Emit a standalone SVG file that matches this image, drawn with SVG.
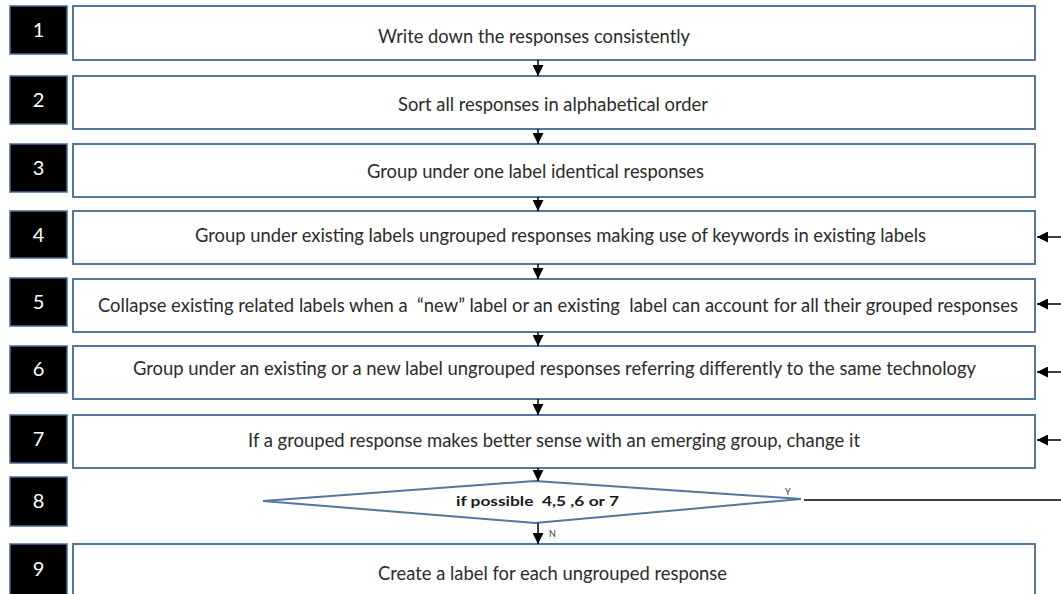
<svg xmlns="http://www.w3.org/2000/svg" width="1061" height="594" viewBox="0 0 1061 594">
  <style>
    .step { fill: #ffffff; stroke: #55779f; stroke-width: 2; }
    .num { fill: #000000; stroke: #4a6a96; stroke-width: 1.5; }
    .numtxt { font-family: "Lato", "Liberation Sans", sans-serif; font-size: 20px; fill: #ffffff; text-anchor: middle; }
    .txt { font-family: "Lato", "Liberation Sans", sans-serif; font-size: 18.5px; fill: #2b2b2b; white-space: pre; }
    .dtxt { font-family: "Lato", "Liberation Sans", sans-serif; font-size: 14px; font-weight: bold; fill: #1a1a1a; white-space: pre; }
    .small { font-family: "Lato", "Liberation Sans", sans-serif; font-size: 9px; fill: #333333; }
    .wire { stroke: #000000; stroke-width: 1.5; fill: none; }
  </style>
  <defs>
    <marker id="tip" viewBox="0 0 10 10" refX="10" refY="5" markerWidth="11" markerHeight="11" markerUnits="userSpaceOnUse" orient="auto">
      <path d="M0,0 L10,5 L0,10 Z" fill="#000000"/>
    </marker>
  </defs>

  <!-- numbered badges -->
  <g id="badges">
    <rect class="num" x="10" y="6" width="57" height="48"/>
    <text class="numtxt" x="38.5" y="37">1</text>
    <rect class="num" x="10" y="76" width="57" height="48"/>
    <text class="numtxt" x="38.5" y="107">2</text>
    <rect class="num" x="10" y="144" width="57" height="48"/>
    <text class="numtxt" x="38.5" y="175">3</text>
    <rect class="num" x="10" y="211" width="57" height="47"/>
    <text class="numtxt" x="38.5" y="242">4</text>
    <rect class="num" x="10" y="278" width="57" height="48"/>
    <text class="numtxt" x="38.5" y="309">5</text>
    <rect class="num" x="10" y="346" width="57" height="47"/>
    <text class="numtxt" x="38.5" y="376">6</text>
    <rect class="num" x="10" y="415" width="57" height="48"/>
    <text class="numtxt" x="38.5" y="446">7</text>
    <rect class="num" x="10" y="477" width="57" height="49"/>
    <text class="numtxt" x="38.5" y="508">8</text>
    <rect class="num" x="10" y="544" width="57" height="52"/>
    <text class="numtxt" x="38.5" y="576">9</text>
  </g>

  <g id="step1">
    <rect class="step" x="73" y="6" width="962" height="54"/>
    <text class="txt" x="378" y="43" textLength="312" lengthAdjust="spacingAndGlyphs">Write down the responses consistently</text>
  </g>
  <g id="step2">
    <rect class="step" x="73" y="76" width="962" height="53"/>
    <text class="txt" x="398" y="111" textLength="310" lengthAdjust="spacingAndGlyphs">Sort all responses in alphabetical order</text>
  </g>
  <g id="step3">
    <rect class="step" x="73" y="144" width="962" height="53"/>
    <text class="txt" x="367" y="178" textLength="337" lengthAdjust="spacingAndGlyphs">Group under one label identical responses</text>
  </g>
  <g id="step4">
    <rect class="step" x="73" y="211" width="962" height="53"/>
    <text class="txt" x="195" y="242" textLength="731" lengthAdjust="spacingAndGlyphs">Group under existing labels ungrouped responses making use of keywords in existing labels</text>
  </g>
  <g id="step5">
    <rect class="step" x="73" y="279" width="962" height="53"/>
    <text class="txt" x="98" y="312" textLength="920" lengthAdjust="spacingAndGlyphs">Collapse existing related labels when a  “new” label or an existing  label can account for all their grouped responses</text>
  </g>
  <g id="step6">
    <rect class="step" x="73" y="346" width="962" height="53"/>
    <text class="txt" x="133" y="375" textLength="843" lengthAdjust="spacingAndGlyphs">Group under an existing or a new label ungrouped responses referring differently to the same technology</text>
  </g>
  <g id="step7">
    <rect class="step" x="73" y="415" width="962" height="53"/>
    <text class="txt" x="248" y="447" textLength="612" lengthAdjust="spacingAndGlyphs">If a grouped response makes better sense with an emerging group, change it</text>
  </g>
  <g id="step8">
    <polygon class="step" points="263,501 535,481 801,499 535,523"/>
    <text class="dtxt" x="456" y="506" textLength="163" lengthAdjust="spacingAndGlyphs">if possible  4,5 ,6 or 7</text>
  </g>
  <g id="step9">
    <rect class="step" x="73" y="544" width="962" height="54"/>
    <text class="txt" x="378" y="580" textLength="349" lengthAdjust="spacingAndGlyphs">Create a label for each ungrouped response</text>
  </g>

  <!-- connectors -->
  <g id="connectors">
    <line class="wire" x1="538" y1="60" x2="538" y2="76" marker-end="url(#tip)"/>
    <line class="wire" x1="538" y1="129" x2="538" y2="144" marker-end="url(#tip)"/>
    <line class="wire" x1="538" y1="197" x2="538" y2="211" marker-end="url(#tip)"/>
    <line class="wire" x1="538" y1="264" x2="538" y2="279" marker-end="url(#tip)"/>
    <line class="wire" x1="538" y1="332" x2="538" y2="346" marker-end="url(#tip)"/>
    <line class="wire" x1="538" y1="399" x2="538" y2="415" marker-end="url(#tip)"/>
    <line class="wire" x1="538" y1="468" x2="538" y2="481" marker-end="url(#tip)"/>
    <line class="wire" x1="538" y1="523" x2="538" y2="544" marker-end="url(#tip)"/>
    <text class="small" x="549" y="537">N</text>
    <line class="wire" x1="804" y1="500" x2="1061" y2="500"/>
    <text class="small" x="785" y="495">Y</text>
    <line class="wire" x1="1061" y1="237" x2="1037" y2="237" marker-end="url(#tip)"/>
    <line class="wire" x1="1061" y1="304" x2="1037" y2="304" marker-end="url(#tip)"/>
    <line class="wire" x1="1061" y1="372" x2="1037" y2="372" marker-end="url(#tip)"/>
    <line class="wire" x1="1061" y1="440" x2="1037" y2="440" marker-end="url(#tip)"/>
  </g>
</svg>
